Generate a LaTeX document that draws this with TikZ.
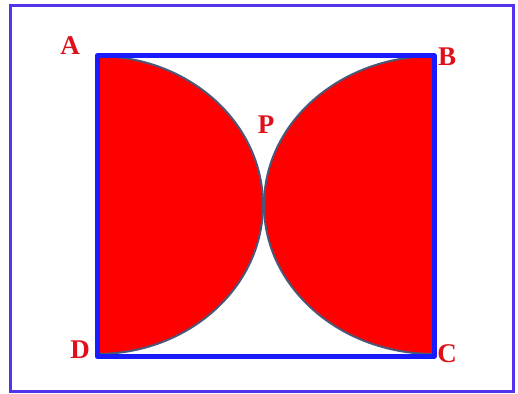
\documentclass[tikz,border=0pt]{standalone}
\usepackage{fontspec}
\setmainfont{Liberation Serif}
\usepackage{xcolor}
\usepackage{tikz}
\usetikzlibrary{positioning}

\definecolor{frameviolet}{HTML}{5533EE}
\definecolor{sqblue}{HTML}{1A1AFF}
\definecolor{halfred}{HTML}{FF0000}
\definecolor{rimgray}{HTML}{4A5878}
\definecolor{lblred}{HTML}{E0101A}

\begin{document}
\begin{tikzpicture}[
  x=1pt, y=-1pt,
  lbl/.style={text=lblred, font=\fontsize{27}{27}\selectfont\bfseries, inner sep=0pt},
  half/.style={fill=halfred, draw=rimgray, line width=2pt},
  sq/.style={draw=sqblue, line width=5pt, line join=round}
]
  \useasboundingbox (0,0) rectangle (518,393);
  \draw[frameviolet, line width=3pt] (10,6) rectangle (513,391);

  % corners of the square
  \coordinate (A) at (97,56);
  \coordinate (B) at (434,56);
  \coordinate (C) at (434,356);
  \coordinate (D) at (97,356);

  % the two half ellipses
  \draw[half] (A) arc[start angle=-90, end angle=90, x radius=166, y radius=149] -- cycle;
  \draw[half] (B) arc[start angle=-90, end angle=-270, x radius=170, y radius=149] -- cycle;

  \draw[sq] (A) -- (B) -- (C) -- (D) -- cycle;

  % labels
  \node[lbl] (la) at (70,46) {A};
  \node[lbl] (lb) at (447,57) {B};
  \node[lbl] (lc) at (447,354) {C};
  \node[lbl] (ld) at (80,350) {D};
  \node[lbl] (lp) at (266,125) {P};
\end{tikzpicture}
\end{document}
